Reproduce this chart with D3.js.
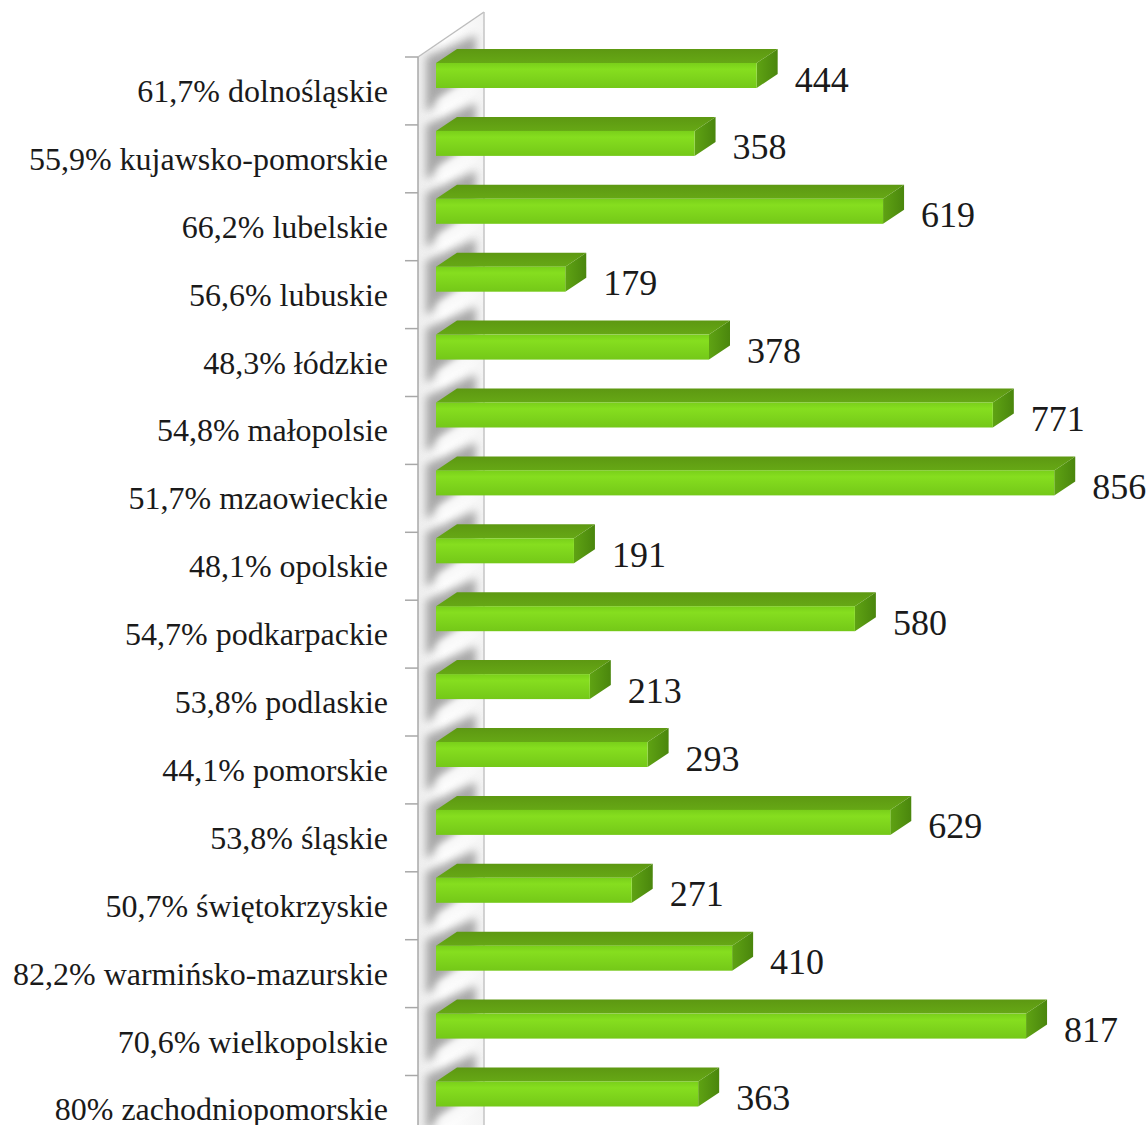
<!DOCTYPE html>
<html>
<head>
<meta charset="utf-8">
<script src="https://cdn.jsdelivr.net/npm/d3@7"></script>
<style>
  body { margin: 0; background: #fff; }
</style>
</head>
<body>
<div id="chart"></div>
<script>
var regions = ["dolnośląskie", "kujawsko-pomorskie", "lubelskie", "lubuskie", "łódzkie",
               "małopolsie", "mzaowieckie", "opolskie", "podkarpackie", "podlaskie",
               "pomorskie", "śląskie", "świętokrzyskie", "warmińsko-mazurskie",
               "wielkopolskie", "zachodniopomorskie"];
var shares = ["61,7%", "55,9%", "66,2%", "56,6%", "48,3%", "54,8%", "51,7%", "48,1%",
              "54,7%", "53,8%", "44,1%", "53,8%", "50,7%", "82,2%", "70,6%", "80%"];
var values = [444, 358, 619, 179, 378, 771, 856, 191, 580, 213, 293, 629, 271, 410, 817, 363];

var W = 1147, H = 1125;
var depthX = 21, depthY = -14;   // 3d offset of the bars
var wallX0 = 418, wallX1 = 484;   // side wall front / back edge

var svg = d3.select("#chart").append("svg")
  .attr("width", W)
  .attr("height", H)
  .style("display", "block");

var data = regions.map(function(r, i){
  return {name: r, share: shares[i], value: values[i]};
});

var y = d3.scaleBand()
  .domain(regions)
  .range([57, 57 + 67.9 * regions.length]);

var x = d3.scaleLinear()
  .domain([0, 900])
  .range([436, 1086]);

var defs = svg.append("defs");

var gFront = defs.append("linearGradient").attr("id", "front")
  .attr("x1", 0).attr("y1", 0).attr("x2", 0).attr("y2", 1);
gFront.append("stop").attr("offset", "0%").attr("stop-color", "#79cf1a");
gFront.append("stop").attr("offset", "25%").attr("stop-color", "#86de1f");
gFront.append("stop").attr("offset", "100%").attr("stop-color", "#74c818");

var gTop = defs.append("linearGradient").attr("id", "topf")
  .attr("x1", 0).attr("y1", 0).attr("x2", 0).attr("y2", 1);
gTop.append("stop").attr("offset", "0%").attr("stop-color", "#5d9812");
gTop.append("stop").attr("offset", "100%").attr("stop-color", "#66a815");

var gEnd = defs.append("linearGradient").attr("id", "endf")
  .attr("x1", 0).attr("y1", 0).attr("x2", 1).attr("y2", 0);
gEnd.append("stop").attr("offset", "0%").attr("stop-color", "#5fa313");
gEnd.append("stop").attr("offset", "100%").attr("stop-color", "#4a860d");

var gWall = defs.append("linearGradient").attr("id", "wallf")
  .attr("x1", 0).attr("y1", 0).attr("x2", 1).attr("y2", 0);
gWall.append("stop").attr("offset", "0%").attr("stop-color", "#eeeeee");
gWall.append("stop").attr("offset", "40%").attr("stop-color", "#ffffff");
gWall.append("stop").attr("offset", "100%").attr("stop-color", "#f4f4f4");

defs.append("filter").attr("id", "blur")
  .attr("x", "-50%").attr("y", "-50%").attr("width", "200%").attr("height", "200%")
  .append("feGaussianBlur").attr("stdDeviation", 4);

var wallPts = [[wallX0, 57], [wallX1, 12], [wallX1, H + 20], [wallX0, H + 20]];

defs.append("clipPath").attr("id", "wallclip")
  .append("polygon").attr("points", wallPts.map(function(p){ return p.join(","); }).join(" "));

// side wall
svg.append("polygon")
  .attr("points", wallPts.map(function(p){ return p.join(","); }).join(" "))
  .style("fill", "url(#wallf)");

// soft shadows of the bars on the wall
var shade = svg.append("g").attr("clip-path", "url(#wallclip)");
shade.selectAll(".wallShadow")
  .data(data)
  .enter().append("polygon")
  .attr("class", "wallShadow")
  .attr("points", function(d){
    var t = y(d.name) + 6, b = t + 25;
    return [[426, t - 6], [426, b + 24], [476, b - 10], [476, t - 28]]
      .map(function(p){ return p.join(","); }).join(" ");
  })
  .style("fill", "#8c8c8c")
  .style("opacity", 0.75)
  .attr("filter", "url(#blur)");

shade.selectAll(".wallLight")
  .data(data)
  .enter().append("polygon")
  .attr("class", "wallLight")
  .attr("points", function(d){
    var t = y(d.name) + 6, b = t + 25;
    return [[437, b + 12], [437, b + 24], [476, b - 2], [476, b - 14]]
      .map(function(p){ return p.join(","); }).join(" ");
  })
  .style("fill", "#ffffff")
  .attr("filter", "url(#blur)");

svg.append("line")
  .attr("x1", wallX0).attr("y1", 57).attr("x2", wallX1).attr("y2", 12)
  .style("stroke", "#bdbdbd").style("stroke-width", 1.5);
svg.append("line")
  .attr("x1", wallX1).attr("y1", 12).attr("x2", wallX1).attr("y2", H)
  .style("stroke", "#c4c4c4").style("stroke-width", 1.5);
svg.append("line")
  .attr("x1", wallX0).attr("y1", 57).attr("x2", wallX0).attr("y2", H)
  .style("stroke", "#a8a8a8").style("stroke-width", 1.5);

// category ticks on the wall edge
var ticks = d3.range(regions.length + 1).map(function(i){ return 57 + 67.9 * i; });
svg.selectAll(".tick")
  .data(ticks)
  .enter().append("line")
  .attr("class", "tick")
  .attr("x1", 405).attr("x2", wallX0)
  .attr("y1", function(d){ return d; })
  .attr("y2", function(d){ return d; })
  .style("stroke", "#a8a8a8").style("stroke-width", 1.5);

// bars
var bars = svg.selectAll(".bar")
  .data(data)
  .enter().append("g")
  .attr("class", "bar");

function ft(d){ return y(d.name) + 6; }
var bh = 25;

bars.append("polygon")
  .attr("points", function(d){
    var x0 = x(0), x1 = x(d.value), t = ft(d);
    return [[x0, t], [x0 + depthX, t + depthY], [x1 + depthX, t + depthY], [x1, t]]
      .map(function(p){ return p.join(","); }).join(" ");
  })
  .style("fill", "url(#topf)");

bars.append("polygon")
  .attr("points", function(d){
    var x1 = x(d.value), t = ft(d);
    return [[x1, t], [x1 + depthX, t + depthY], [x1 + depthX, t + depthY + bh], [x1, t + bh]]
      .map(function(p){ return p.join(","); }).join(" ");
  })
  .style("fill", "url(#endf)");

bars.append("rect")
  .attr("x", x(0))
  .attr("y", function(d){ return ft(d); })
  .attr("width", function(d){ return x(d.value) - x(0); })
  .attr("height", bh)
  .style("fill", "url(#front)");

// labels go in their own group, serif like the original
var labels = svg.append("g")
  .attr("font-family", "Liberation Serif, Times New Roman, serif")
  .attr("fill", "#1a1a1a");

labels.selectAll(".valLabel")
  .data(data)
  .enter().append("text")
  .attr("class", "valLabel")
  .attr("x", function(d){ return x(d.value) + depthX + 17; })
  .attr("y", function(d){ return ft(d) + bh / 2 + 16; })
  .attr("font-size", 36)
  .text(function(d){ return d.value; });

labels.selectAll(".catLabel")
  .data(data)
  .enter().append("text")
  .attr("class", "catLabel")
  .attr("x", 388)
  .attr("y", function(d){ return y(d.name) + y.bandwidth() / 2 + 11; })
  .attr("text-anchor", "end")
  .attr("font-size", 32)
  .text(function(d){ return d.share + " " + d.name; });
</script>
</body>
</html>
